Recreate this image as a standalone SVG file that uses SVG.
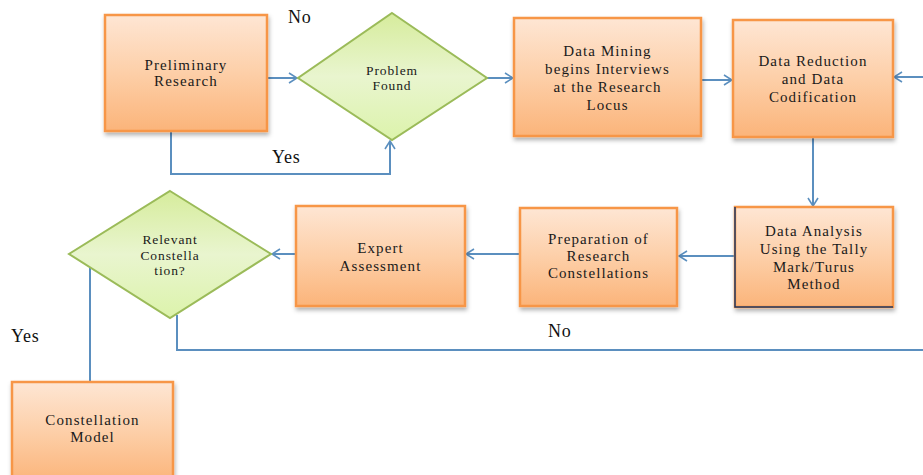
<svg xmlns="http://www.w3.org/2000/svg" width="923" height="475" viewBox="0 0 923 475">
<defs>
<linearGradient id="og" x1="0" y1="0" x2="0" y2="1">
<stop offset="0" stop-color="#fee6d4"/>
<stop offset="0.5" stop-color="#fdcfa8"/>
<stop offset="1" stop-color="#fbb47a"/>
</linearGradient>
<linearGradient id="gg" x1="0" y1="0" x2="0" y2="1">
<stop offset="0" stop-color="#d6ec9c"/>
<stop offset="0.5" stop-color="#e9f5cf"/>
<stop offset="1" stop-color="#dcf3ab"/>
</linearGradient>
<filter id="sh" x="-10%" y="-10%" width="125%" height="130%">
<feDropShadow dx="1" dy="3" stdDeviation="2" flood-color="#000" flood-opacity="0.3"/>
</filter>
<marker id="ar" viewBox="0 0 10 12" refX="9" refY="6" markerWidth="10" markerHeight="12" markerUnits="userSpaceOnUse" orient="auto">
<path d="M1,1 L9,6 L1,11" fill="none" stroke="#5b8fbf" stroke-width="1.6"/>
</marker>
<style>
.box{fill:url(#og);stroke:#f79646;stroke-width:2.5;filter:url(#sh)}
.dia{fill:url(#gg);stroke:#9bbb59;stroke-width:2}
.t{font-family:"Liberation Serif","Times New Roman",serif;font-size:15px;letter-spacing:1.1px;fill:#1a1a1a;text-anchor:middle}
.ts{font-family:"Liberation Serif","Times New Roman",serif;font-size:13.5px;letter-spacing:0.9px;fill:#1a1a1a;text-anchor:middle}
.lb{font-family:"Liberation Serif","Times New Roman",serif;font-size:18px;letter-spacing:0.8px;fill:#111}
.c{fill:none;stroke:#5b8fbf;stroke-width:2}
</style>
</defs>

<g id="connectors">
<path class="c" d="M267,78 H297" marker-end="url(#ar)"/>
<path class="c" d="M171,131 V174 H390 V141" marker-end="url(#ar)"/>
<path class="c" d="M487,78 H513" marker-end="url(#ar)"/>
<path class="c" d="M701,80 H732" marker-end="url(#ar)"/>
<path class="c" d="M923,77 H894" marker-end="url(#ar)"/>
<path class="c" d="M813,137 V206" marker-end="url(#ar)"/>
<path class="c" d="M735,256 H679" marker-end="url(#ar)"/>
<path class="c" d="M520,254 H466" marker-end="url(#ar)"/>
<path class="c" d="M296,254 H272" marker-end="url(#ar)"/>
<path class="c" d="M90,268 V382"/>
<path class="c" d="M177,315 V350 H923"/>
</g>

<g id="labels">
<text class="lb" x="288" y="23">No</text>
<text class="lb" x="272" y="163">Yes</text>
<text class="lb" x="548" y="337">No</text>
<text class="lb" x="11" y="342">Yes</text>
</g>

<g id="preliminary">
<rect class="box" x="105" y="15" width="162" height="116"/>
<text class="t" x="186" y="70">Preliminary</text>
<text class="t" x="186" y="86">Research</text>
</g>

<g id="problem-found">
<polygon class="dia" points="392,13 487,78 392,140 298,78"/>
<text class="ts" x="392" y="75">Problem</text>
<text class="ts" x="392" y="90">Found</text>
</g>

<g id="data-mining">
<rect class="box" x="514" y="18" width="187" height="118"/>
<text class="t" x="607.5" y="56">Data Mining</text>
<text class="t" x="607.5" y="74">begins Interviews</text>
<text class="t" x="607.5" y="92">at the Research</text>
<text class="t" x="607.5" y="110">Locus</text>
</g>

<g id="data-reduction">
<rect class="box" x="733" y="20" width="160" height="117"/>
<text class="t" x="813" y="66">Data Reduction</text>
<text class="t" x="813" y="84">and Data</text>
<text class="t" x="813" y="102">Codification</text>
</g>

<g id="data-analysis">
<rect class="box" x="735" y="207" width="158" height="100"/>
<path d="M735,207 V307 H893" fill="none" stroke="#1f3763" stroke-width="1.5"/>
<text class="t" x="814" y="236">Data Analysis</text>
<text class="t" x="814" y="254">Using the Tally</text>
<text class="t" x="814" y="272">Mark/Turus</text>
<text class="t" x="814" y="289">Method</text>
</g>

<g id="preparation">
<rect class="box" x="520" y="208" width="157" height="98"/>
<text class="t" x="598.5" y="244">Preparation of</text>
<text class="t" x="598.5" y="261">Research</text>
<text class="t" x="598.5" y="278">Constellations</text>
</g>

<g id="expert">
<rect class="box" x="296" y="206" width="169" height="100"/>
<text class="t" x="380.5" y="253">Expert</text>
<text class="t" x="380.5" y="271">Assessment</text>
</g>

<g id="relevant">
<polygon class="dia" points="170,191 271,254 170,318 69,254"/>
<text class="ts" x="170" y="244">Relevant</text>
<text class="ts" x="170" y="260">Constella</text>
<text class="ts" x="170" y="275">tion?</text>
</g>

<g id="constellation-model">
<rect class="box" x="12" y="382" width="161" height="100"/>
<text class="t" x="92.5" y="425">Constellation</text>
<text class="t" x="92.5" y="442">Model</text>
</g>
</svg>
